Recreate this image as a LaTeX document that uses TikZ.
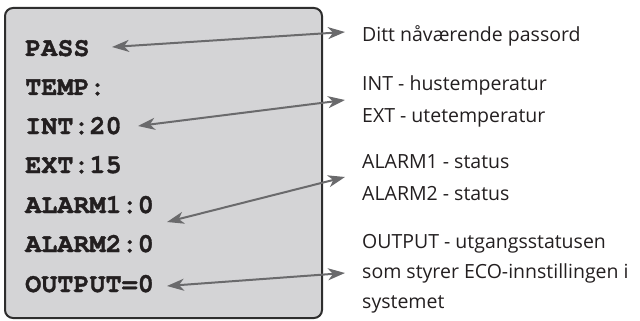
\documentclass[tikz,border=0pt]{standalone}
\usepackage{fontspec}
\newfontfamily\monofont[FakeBold=1.2]{texgyrecursor-bold.otf}
\newfontfamily\labelfont{Open Sans}
\usetikzlibrary{arrows.meta}
\definecolor{boxfill}{HTML}{D4D4D6}
\definecolor{boxline}{HTML}{2E2E2E}
\definecolor{arrowgray}{HTML}{6A6A6C}
\definecolor{textdark}{HTML}{231F20}
\tikzset{
  screen/.style={draw=boxline, line width=2pt, fill=boxfill, rounded corners=8pt},
  code/.style={anchor=base west, inner sep=0pt, text=textdark, font=\monofont\fontsize{26.8}{26.8}\selectfont},
  desc/.style={anchor=base west, inner sep=0pt, text=textdark, font=\labelfont\fontsize{19.5}{19.5}\selectfont},
  link/.style={draw=arrowgray, line width=2pt, {Stealth[length=17pt,width=12pt,inset=5pt]}-{Stealth[length=17pt,width=12pt,inset=5pt]}}
}
\begin{document}
\begin{tikzpicture}[x=1pt,y=-1pt]
\useasboundingbox (0,0) rectangle (640,321);
\draw[screen] (5,8) rectangle (322,318);
% left codes
\node[code] (pass) at (25,56) {PASS};
\node[code] (temp) at (25,95) {TEMP:};
\node[code] (int) at (25,134) {INT:20};
\node[code] (ext) at (25,173) {EXT:15};
\node[code] (al1) at (25,213) {ALARM1:0};
\node[code] (al2) at (25,252) {ALARM2:0};
\node[code] (out) at (25,292) {OUTPUT=0};
% right descriptions
\node[desc] (d1) at (362,42) {Ditt nåværende passord};
\node[desc] (d2) at (362,90) {INT - hustemperatur};
\node[desc] (d3) at (362,122) {EXT - utetemperatur};
\node[desc] (d4) at (362,168) {ALARM1 - status};
\node[desc] (d5) at (362,200) {ALARM2 - status};
\node[desc] (d6) at (362,248) {OUTPUT - utgangsstatusen};
\node[desc] (d7) at (362,278) {som styrer ECO-innstillingen i};
\node[desc] (d8) at (362,308) {systemet};
% arrow tips
\coordinate (a1l) at (112,47);
\coordinate (a1r) at (345,32);
\coordinate (a2l) at (138,126);
\coordinate (a2r) at (345,100);
\coordinate (a3l) at (167,222);
\coordinate (a3r) at (345,177);
\coordinate (a4l) at (167,286);
\coordinate (a4r) at (345,273);
\draw[link] (a1l) -- (a1r);
\draw[link] (a2l) -- (a2r);
\draw[link] (a3l) -- (a3r);
\draw[link] (a4l) -- (a4r);
\end{tikzpicture}
\end{document}
